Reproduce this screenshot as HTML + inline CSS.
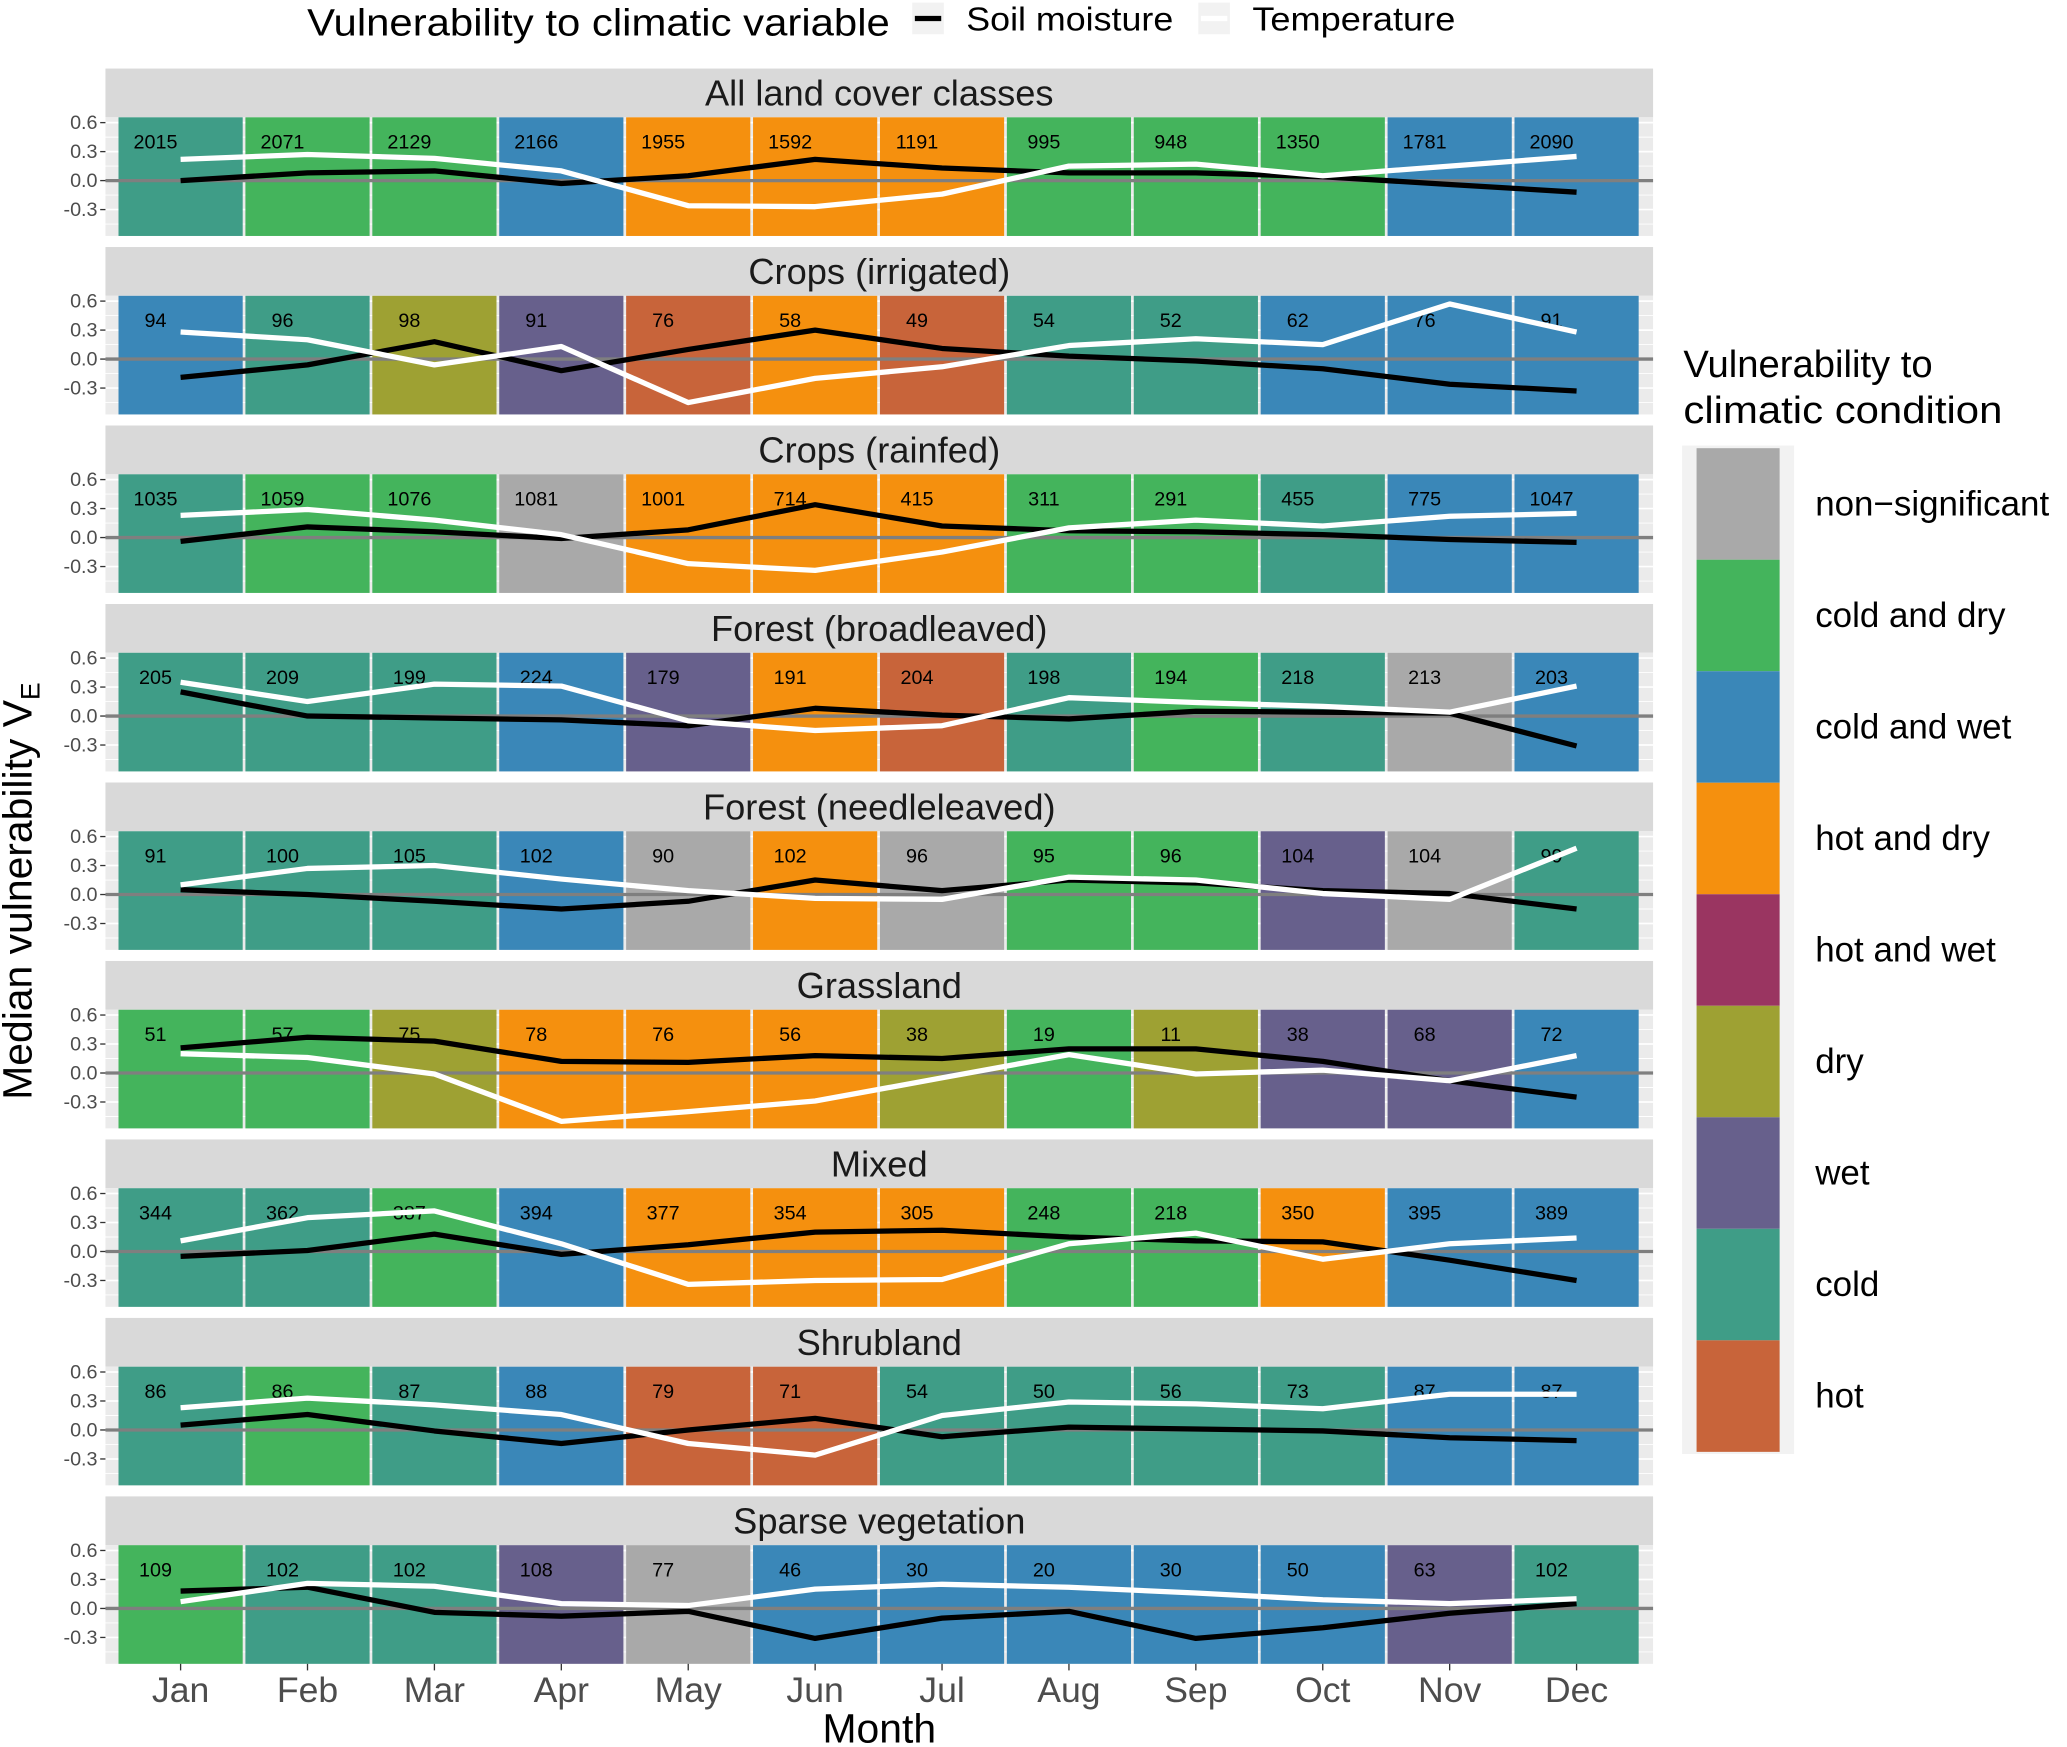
<!DOCTYPE html>
<html><head><meta charset="utf-8"><style>
html,body{margin:0;padding:0;background:#fff;}
svg{display:block;font-family:"Liberation Sans",Arial,sans-serif;}
</style></head><body>
<svg id="chart" width="2067" height="1747" viewBox="0 0 1568 1325.3" preserveAspectRatio="none" xmlns="http://www.w3.org/2000/svg">
<g>
<text x="233" y="27" font-size="29" textLength="442" lengthAdjust="spacingAndGlyphs" fill="#000">Vulnerability to climatic variable</text>
<rect x="692" y="2" width="24" height="24" fill="#f2f2f2"/>
<line x1="694" y1="14" x2="714" y2="14" stroke="#000" stroke-width="4"/>
<text x="733" y="23" font-size="25" textLength="157" lengthAdjust="spacingAndGlyphs">Soil moisture</text>
<rect x="909" y="2" width="24" height="24" fill="#f2f2f2"/>
<line x1="911" y1="14" x2="931" y2="14" stroke="#fff" stroke-width="4"/>
<text x="950" y="23" font-size="25" textLength="154" lengthAdjust="spacingAndGlyphs">Temperature</text>
</g>
<text transform="translate(24,676) rotate(-90)" text-anchor="middle" font-size="31">Median vulnerability V<tspan font-size="20" dy="6">E</tspan></text>
<text x="667" y="1322" text-anchor="middle" font-size="31">Month</text>
<g id="panels"></g>
<g id="legend2">
<text x="1277" y="286" font-size="29">Vulnerability to</text>
<text x="1277" y="321" font-size="29" textLength="242" lengthAdjust="spacingAndGlyphs">climatic condition</text>
<rect x="1276" y="338" width="85" height="765" fill="#f2f2f2"/>
</g>
</svg>
<script>
const months=["Jan","Feb","Mar","Apr","May","Jun","Jul","Aug","Sep","Oct","Nov","Dec"];
const panelTitles=["All land cover classes","Crops (irrigated)","Crops (rainfed)","Forest (broadleaved)","Forest (needleleaved)","Grassland","Mixed","Shrubland","Sparse vegetation"];
const condNames=["non\u2212significant","cold and dry","cold and wet","hot and dry","hot and wet","dry","wet","cold","hot"];
const condColors={ns:"#a9a9a9",cd:"#44b45c",cw:"#3a87b8",hd:"#f5900e",hw:"#9a3561",d:"#9ea133",w:"#67608c",c:"#3f9d87",h:"#c8643a"};
const condKeys=["ns","cd","cw","hd","hw","d","w","c","h"];
const tileCats=[
["c","cd","cd","cw","hd","hd","hd","cd","cd","cd","cw","cw"],
["cw","c","d","w","h","hd","h","c","c","cw","cw","cw"],
["c","cd","cd","ns","hd","hd","hd","cd","cd","c","cw","cw"],
["c","c","c","cw","w","hd","h","c","cd","c","ns","cw"],
["c","c","c","cw","ns","hd","ns","cd","cd","w","ns","c"],
["cd","cd","d","hd","hd","hd","d","cd","d","w","w","cw"],
["c","c","cd","cw","hd","hd","hd","cd","cd","hd","cw","cw"],
["c","cd","c","cw","h","h","c","c","c","c","cw","cw"],
["cd","c","c","w","ns","cw","cw","cw","cw","cw","w","c"]];
const counts=[
[2015,2071,2129,2166,1955,1592,1191,995,948,1350,1781,2090],
[94,96,98,91,76,58,49,54,52,62,76,91],
[1035,1059,1076,1081,1001,714,415,311,291,455,775,1047],
[205,209,199,224,179,191,204,198,194,218,213,203],
[91,100,105,102,90,102,96,95,96,104,104,99],
[51,57,75,78,76,56,38,19,11,38,68,72],
[344,362,387,394,377,354,305,248,218,350,395,389],
[86,86,87,88,79,71,54,50,56,73,87,87],
[109,102,102,108,77,46,30,20,30,50,63,102]];
const soil=[
[0.0,0.08,0.1,-0.03,0.05,0.22,0.13,0.08,0.08,0.04,-0.04,-0.12],
[-0.19,-0.06,0.18,-0.12,0.1,0.3,0.11,0.03,-0.02,-0.1,-0.26,-0.33],
[-0.04,0.11,0.06,-0.01,0.08,0.34,0.12,0.07,0.06,0.03,-0.02,-0.05],
[0.25,0.0,-0.02,-0.04,-0.1,0.08,0.01,-0.03,0.05,0.04,0.03,-0.31],
[0.05,0.0,-0.07,-0.15,-0.07,0.15,0.04,0.15,0.12,0.04,0.01,-0.15],
[0.26,0.37,0.33,0.12,0.11,0.18,0.15,0.25,0.25,0.12,-0.08,-0.25],
[-0.05,0.01,0.18,-0.03,0.07,0.2,0.22,0.15,0.11,0.1,-0.09,-0.3],
[0.05,0.16,-0.01,-0.14,0.0,0.12,-0.07,0.03,0.01,-0.01,-0.08,-0.11],
[0.18,0.22,-0.04,-0.08,-0.03,-0.31,-0.1,-0.03,-0.31,-0.2,-0.05,0.05]];
const temp=[
[0.22,0.27,0.23,0.1,-0.26,-0.27,-0.14,0.15,0.17,0.05,0.15,0.25],
[0.28,0.2,-0.06,0.13,-0.45,-0.2,-0.08,0.14,0.21,0.15,0.57,0.28],
[0.23,0.29,0.18,0.03,-0.27,-0.34,-0.15,0.1,0.18,0.12,0.22,0.25],
[0.35,0.15,0.33,0.31,-0.05,-0.15,-0.1,0.19,0.14,0.1,0.04,0.31],
[0.1,0.27,0.3,0.16,0.04,-0.04,-0.05,0.18,0.15,0.01,-0.05,0.48],
[0.2,0.16,-0.01,-0.5,-0.4,-0.29,-0.05,0.19,-0.01,0.03,-0.08,0.18],
[0.11,0.35,0.42,0.08,-0.34,-0.3,-0.29,0.08,0.19,-0.08,0.08,0.14],
[0.23,0.33,0.26,0.16,-0.14,-0.26,0.15,0.29,0.27,0.22,0.37,0.37],
[0.07,0.26,0.23,0.05,0.03,0.2,0.25,0.22,0.16,0.09,0.05,0.1]];
const yTicks=[0.6,0.3,0.0,-0.3];
const yTickLabels=["0.6","0.3","0.0","-0.3"];

const NS="http://www.w3.org/2000/svg";
const svg=document.getElementById('chart');
const G=document.getElementById('panels');
function mk(tag,attrs,parent){const e=document.createElementNS(NS,tag);for(const k in attrs)e.setAttribute(k,attrs[k]);(parent||G).appendChild(e);return e;}
const PX0=80,PX1=1254,STEP=135.4,STRIP=37,PH=90;
const xC=i=>137+i*96.27;
const halfW=48.1;
function yS(p){const z=52+p*STEP+STRIP+48;return v=>z-v*73.3;}

for(let p=0;p<9;p++){
  const top=52+p*STEP, py=top+STRIP, y=yS(p);
  const g=mk('g',{});
  
  
  const st=mk('rect',{x:PX0,y:top,width:PX1-PX0,height:STRIP,fill:'#d9d9d9'},g);
  
  
  const stt=mk('text',{x:(PX0+PX1)/2,y:top+28,'text-anchor':'middle','font-size':27.5,fill:'#1a1a1a'},g);
  stt.textContent=panelTitles[p];
  
  
  const bg=mk('rect',{x:PX0,y:py,width:PX1-PX0,height:PH,fill:'#ebebeb'},g);
  
  
  [0.45,0.15,-0.15,-0.45].forEach(v=>{const l=mk('line',{x1:PX0,x2:PX1,y1:y(v),y2:y(v),stroke:'#fff','stroke-width':0.7},g);});
  yTicks.forEach((v,k)=>{
    const l=mk('line',{x1:PX0,x2:PX1,y1:y(v),y2:y(v),stroke:'#fff','stroke-width':1.3},g);
    
    
    const t=mk('line',{x1:PX0-4,x2:PX0,y1:y(v),y2:y(v),stroke:'#333','stroke-width':1},g);
    
    
    const tl=mk('text',{x:PX0-6,y:y(v)+5,'text-anchor':'end','font-size':15,fill:'#4d4d4d'},g);
    tl.textContent=yTickLabels[k];
    
    
  });
  for(let i=0;i<12;i++){
    const r=mk('rect',{x:xC(i)-halfW+1,y:py,width:2*halfW-2,height:PH,fill:condColors[tileCats[p][i]]},g);
    
    
    const t=mk('text',{x:xC(i)-19,y:y(0.4)+5,'text-anchor':'middle','font-size':15,fill:'#000'},g);
    t.textContent=counts[p][i];
    
    
  }
  const z=mk('line',{x1:PX0,x2:PX1,y1:y(0),y2:y(0),stroke:'#7f7f7f','stroke-width':2.5},g);
  
  
  const sp=mk('polyline',{points:soil[p].map((v,i)=>xC(i)+','+y(v)).join(' '),fill:'none',stroke:'#000','stroke-width':4,'stroke-linejoin':'round'},g);
  
  
  const tp=mk('polyline',{points:temp[p].map((v,i)=>xC(i)+','+y(v)).join(' '),fill:'none',stroke:'#fff','stroke-width':4,'stroke-linejoin':'round'},g);
  
  
}
const lastBottom=52+8*STEP+STRIP+PH;
for(let i=0;i<12;i++){
  const t=mk('line',{x1:xC(i),x2:xC(i),y1:lastBottom,y2:lastBottom+5,stroke:'#333','stroke-width':1});
  
  
  const l=mk('text',{x:xC(i),y:lastBottom+29,'text-anchor':'middle','font-size':27,fill:'#4d4d4d'});
  l.textContent=months[i];
  
  
}
const L=document.getElementById('legend2');
for(let k=0;k<9;k++){
  const y0=340+k*84.6;
  const r=mk('rect',{x:1287,y:y0,width:63,height:84.6,fill:condColors[condKeys[k]]},L);
  
  
  const t=mk('text',{x:1377,y:y0+51,'font-size':26.5,fill:'#000'},L);
  t.textContent=condNames[k];
  
  
}
</script>
</body></html>
